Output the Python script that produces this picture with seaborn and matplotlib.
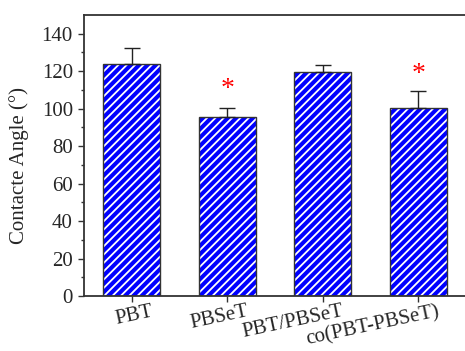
import matplotlib
matplotlib.use("Agg")
from matplotlib import pyplot as plt
from matplotlib.transforms import ScaledTranslation
import numpy as np
import pandas as pd
import seaborn as sns

categories = ["PBT", "PBSeT", "PBT/PBSeT", "co(PBT-PBSeT)"]
angles = [124.0, 95.5, 119.7, 100.1]
errors = [8.4, 5.0, 3.6, 9.5]
significant = [False, True, False, True]
star_heights = [0, 110, 0, 118]

sns.set_style("ticks")
plt.rcParams['font.family'] = ['Liberation Serif', 'DejaVu Serif']
plt.rcParams['hatch.linewidth'] = 1.3

df = pd.DataFrame({"sample": categories, "angle": angles})

fig = plt.figure(figsize=(4.65, 3.51), dpi=100)
ax = fig.add_axes([84 / 465, 1 - 296 / 351, (466 - 84) / 465, (296 - 15) / 351])

sns.barplot(data=df, x="sample", y="angle", color="#0000ff", width=0.6,
            saturation=1, edgecolor="#333333", linewidth=1.0, ax=ax)
for p in ax.patches:
    p.set_hatch("////")
    p._hatch_color = (1, 1, 1, 1)

x = np.arange(len(categories))
ax.errorbar(x, angles, yerr=[np.zeros(len(errors)), errors], fmt="none",
            ecolor="#222222", elinewidth=1.0, capsize=6, capthick=1.0, zorder=1)

for xi, sig, h in zip(x, significant, star_heights):
    if sig:
        ax.text(xi, h, "*", color="red", fontsize=20, ha="center", va="center")

ax.set_xlim(-0.5, 3.5)
ax.set_ylim(0, 150)
ax.set_yticks(np.arange(0, 141, 20))
ax.set_yticks(np.arange(10, 150, 20), minor=True)
ax.tick_params(axis="both", direction="out", labelsize=15, width=1.0, length=4.5, color="#333333")
ax.tick_params(axis="y", which="minor", length=2.5, width=1.0, color="#333333")
ax.tick_params(axis="x", pad=0)
ax.set_xticks(x)
ax.set_xticklabels(categories, fontsize=15)
ax.set_xlabel("")
ax.set_ylabel("Contacte Angle (\u00b0)", fontsize=15)
ax.yaxis.set_label_coords(-0.144, 0.463)

# rotated labels, right end just past the tick like the original
offset = ScaledTranslation(19 / 100, 0, fig.dpi_scale_trans)
for lab in ax.get_xticklabels():
    lab.set_rotation(12)
    lab.set_ha("right")
    lab.set_va("top")
    lab.set_rotation_mode("anchor")
    lab.set_transform(lab.get_transform() + offset)

for s in ["left", "bottom", "top"]:
    ax.spines[s].set_color("#333333")
    ax.spines[s].set_linewidth(1.3)
ax.spines["right"].set_visible(False)

plt.savefig("out.png", dpi=100)
